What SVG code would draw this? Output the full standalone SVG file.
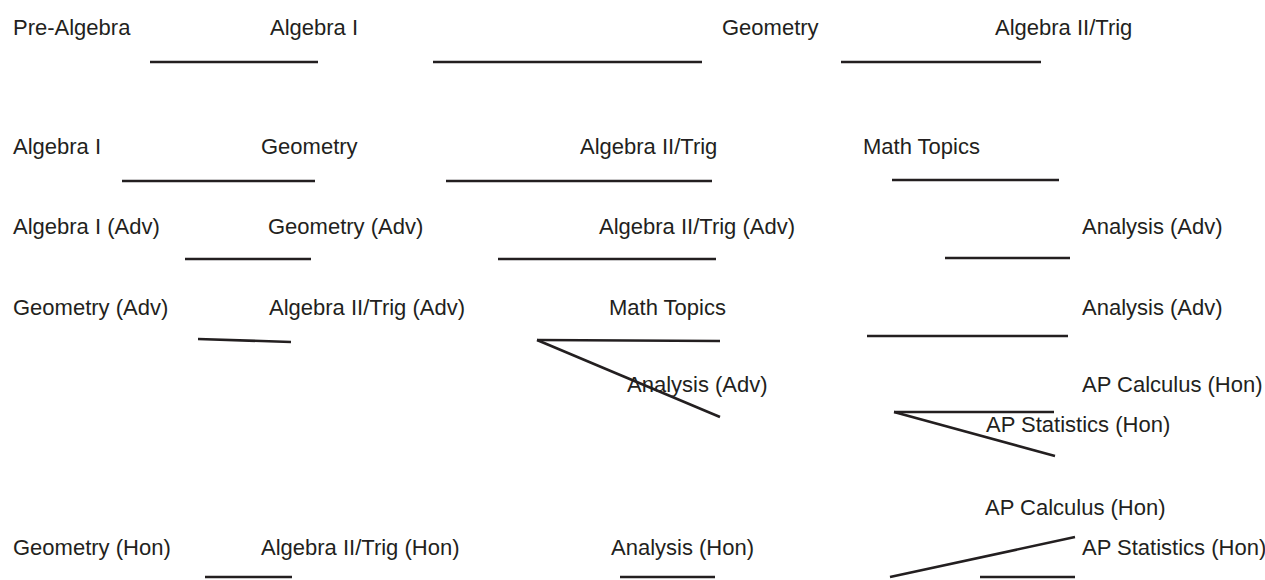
<svg xmlns="http://www.w3.org/2000/svg" width="1265" height="580" viewBox="0 0 1265 580">
<style>
text{font-family:"Liberation Sans",Arial,sans-serif;font-size:22px;fill:#231f20}
line{stroke:#231f20;stroke-width:2.6;stroke-linecap:butt}
</style>
<rect width="1265" height="580" fill="#fff"/>
<g id="r1-prealg"><text x="13" y="35">Pre-Algebra</text></g>
<g id="r1-alg1"><text x="270" y="35">Algebra I</text></g>
<g id="r1-geo"><text x="722" y="35">Geometry</text></g>
<g id="r1-alg2"><text x="995" y="35">Algebra II/Trig</text></g>
<g id="r2-alg1"><text x="13" y="154">Algebra I</text></g>
<g id="r2-geo"><text x="261" y="154">Geometry</text></g>
<g id="r2-alg2"><text x="580" y="154">Algebra II/Trig</text></g>
<g id="r2-math"><text x="863" y="154">Math Topics</text></g>
<g id="r3-alg1"><text x="13" y="234">Algebra I (Adv)</text></g>
<g id="r3-geo"><text x="268" y="234">Geometry (Adv)</text></g>
<g id="r3-alg2"><text x="599" y="234">Algebra II/Trig (Adv)</text></g>
<g id="r3-ana"><text x="1082" y="234">Analysis (Adv)</text></g>
<g id="r4-geo"><text x="13" y="315">Geometry (Adv)</text></g>
<g id="r4-alg2"><text x="269" y="315">Algebra II/Trig (Adv)</text></g>
<g id="r4-math"><text x="609" y="315">Math Topics</text></g>
<g id="r4-ana"><text x="1082" y="315">Analysis (Adv)</text></g>
<g id="r5-ana"><text x="627" y="392">Analysis (Adv)</text></g>
<g id="r5-apcalc"><text x="1082" y="392">AP Calculus (Hon)</text></g>
<g id="r5-apstat"><text x="986" y="432">AP Statistics (Hon)</text></g>
<g id="r6-apcalc"><text x="985" y="515">AP Calculus (Hon)</text></g>
<g id="r7-geo"><text x="13" y="555">Geometry (Hon)</text></g>
<g id="r7-alg2"><text x="261" y="555">Algebra II/Trig (Hon)</text></g>
<g id="r7-ana"><text x="611" y="555">Analysis (Hon)</text></g>
<g id="r7-apstat"><text x="1082" y="555">AP Statistics (Hon)</text></g>
<g id="connectors">
<line x1="150" y1="62" x2="318" y2="62"/>
<line x1="433" y1="62" x2="702" y2="62"/>
<line x1="841" y1="62" x2="1041" y2="62"/>
<line x1="122" y1="181" x2="315" y2="181"/>
<line x1="446" y1="181" x2="712" y2="181"/>
<line x1="892" y1="180" x2="1059" y2="180"/>
<line x1="185" y1="259" x2="311" y2="259"/>
<line x1="498" y1="259" x2="716" y2="259"/>
<line x1="945" y1="258" x2="1070" y2="258"/>
<line x1="198" y1="339" x2="291" y2="342"/>
<line x1="537" y1="340" x2="720" y2="341"/>
<line x1="537" y1="340" x2="720" y2="417"/>
<line x1="867" y1="336" x2="1068" y2="336"/>
<line x1="894" y1="412" x2="1054" y2="412"/>
<line x1="894" y1="412" x2="1055" y2="456"/>
<line x1="205" y1="577" x2="292" y2="577"/>
<line x1="620" y1="577" x2="715" y2="577"/>
<line x1="890" y1="577" x2="1075" y2="537"/>
<line x1="980" y1="577" x2="1075" y2="577"/>
</g>
</svg>
